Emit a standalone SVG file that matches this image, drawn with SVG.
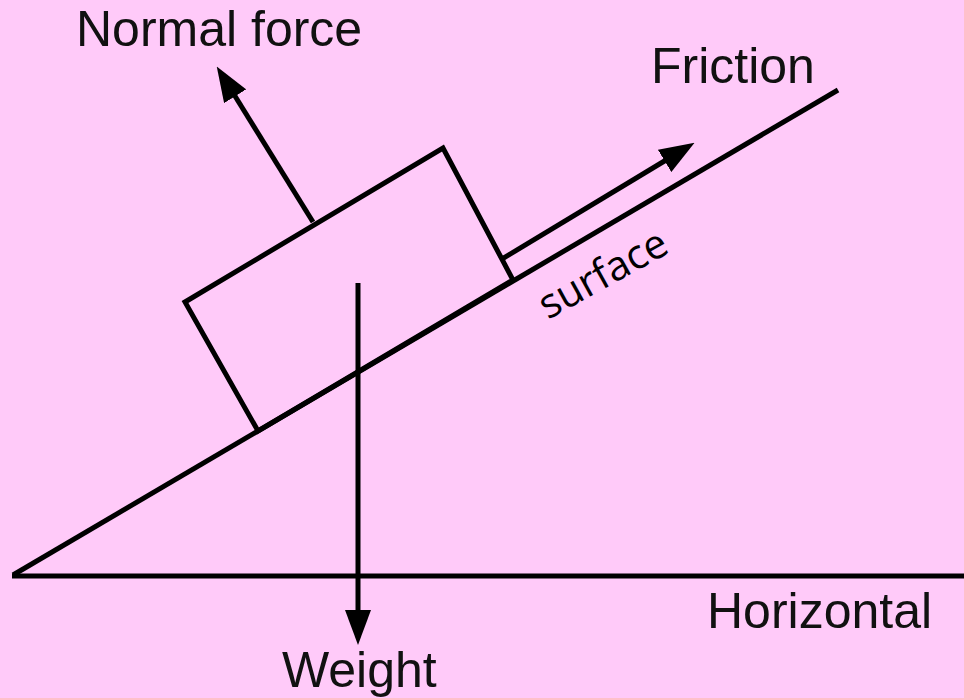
<svg xmlns="http://www.w3.org/2000/svg" width="964" height="698" viewBox="0 0 964 698">
<style>
.ln{stroke:#000;stroke-width:5;fill:none;stroke-linejoin:miter}
.lbl{font-family:"Liberation Sans",Arial,sans-serif;font-size:50px;fill:#111}
.sf{font-family:"Open Sans","Noto Sans",sans-serif;font-size:41px;fill:#000}
</style>
<defs>
<marker id="ah" viewBox="0 0 35 26" refX="25" refY="13" markerWidth="35" markerHeight="26" markerUnits="userSpaceOnUse" orient="auto">
<path d="M0,0 L35,13 L0,26 Z" fill="#000"/>
</marker>
</defs>
<rect width="964" height="698" fill="#FFCAF9"/>
<g id="ground">
<line class="ln" x1="12" y1="576" x2="964" y2="576"/>
<line class="ln" x1="13" y1="575" x2="838" y2="90"/>
<text class="lbl" x="707" y="628">Horizontal</text>
<text class="sf" x="548" y="320" transform="rotate(-29 548 320)">surface</text>
</g>
<g id="block">
<polygon class="ln" points="185,302 443,148 513,280 258,431"/>
</g>
<g id="connectors">
<line class="ln" x1="502" y1="259" x2="686" y2="148" marker-end="url(#ah)"/>
<line class="ln" x1="313" y1="222" x2="222" y2="75" marker-end="url(#ah)"/>
<line class="ln" x1="358" y1="283" x2="358" y2="635" marker-end="url(#ah)"/>
</g>
<g id="normal-label"><text class="lbl" x="76" y="46">Normal force</text></g>
<g id="friction-label"><text class="lbl" x="651" y="83">Friction</text></g>
<g id="weight-label"><text class="lbl" x="282" y="687">Weight</text></g>
</svg>
